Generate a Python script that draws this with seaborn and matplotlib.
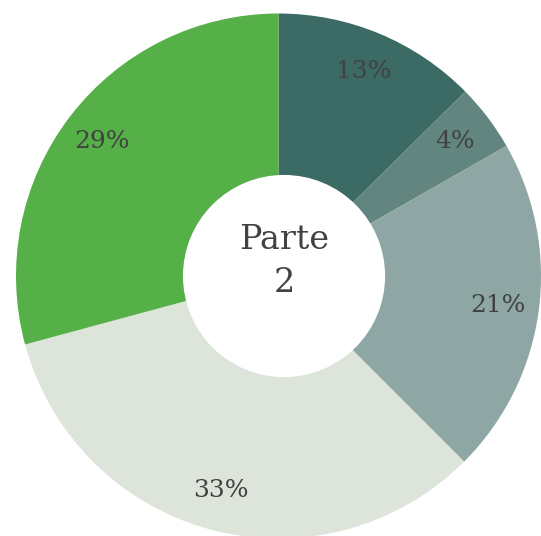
import matplotlib
matplotlib.use("Agg")
import matplotlib.pyplot as plt
from matplotlib.patches import Circle
import seaborn as sns

# Data (clockwise from 12 o'clock), shares estimated from the slice edges
labels = ["A", "B", "C", "D", "E"]
shares = [12.6, 4.15, 20.75, 33.3, 29.2]
colors = ["#3b6b64", "#62857f", "#8ea7a5", "#dde5db", "#55b047"]
center_text = "Parte\n2"

sns.set_theme(style="white")
plt.rcParams["font.family"] = ["DejaVu Serif"]

fig = plt.figure(figsize=(5.41, 5.36), dpi=100)
ax = fig.add_axes([0, 0, 1, 1])

wedges, texts, autotexts = ax.pie(
    shares,
    labels=None,
    colors=sns.color_palette(colors),
    startangle=90,
    counterclock=False,
    autopct="%.0f%%",
    pctdistance=0.845,
    radius=1.0,
    wedgeprops=dict(edgecolor="none"),
    textprops=dict(color="#424242", fontsize=18),
)

# white hole (sits a little right of the ring centre in the original)
ax.add_patch(Circle((0.021, 0.0), 0.385, facecolor="white", edgecolor="none", zorder=3))

ax.text(0.021, 0.055, center_text, ha="center", va="center",
        fontsize=24, color="#424242", linespacing=1.45, zorder=4)

# ring centre at ~(278.5, 276) px, radius ~262.5 px
r = 262.5
ax.set_xlim(-278.5 / r, (541 - 278.5) / r)
ax.set_ylim(-(536 - 276) / r, 276 / r)
ax.set_aspect("equal")
ax.axis("off")

fig.savefig("out.png", dpi=100)
